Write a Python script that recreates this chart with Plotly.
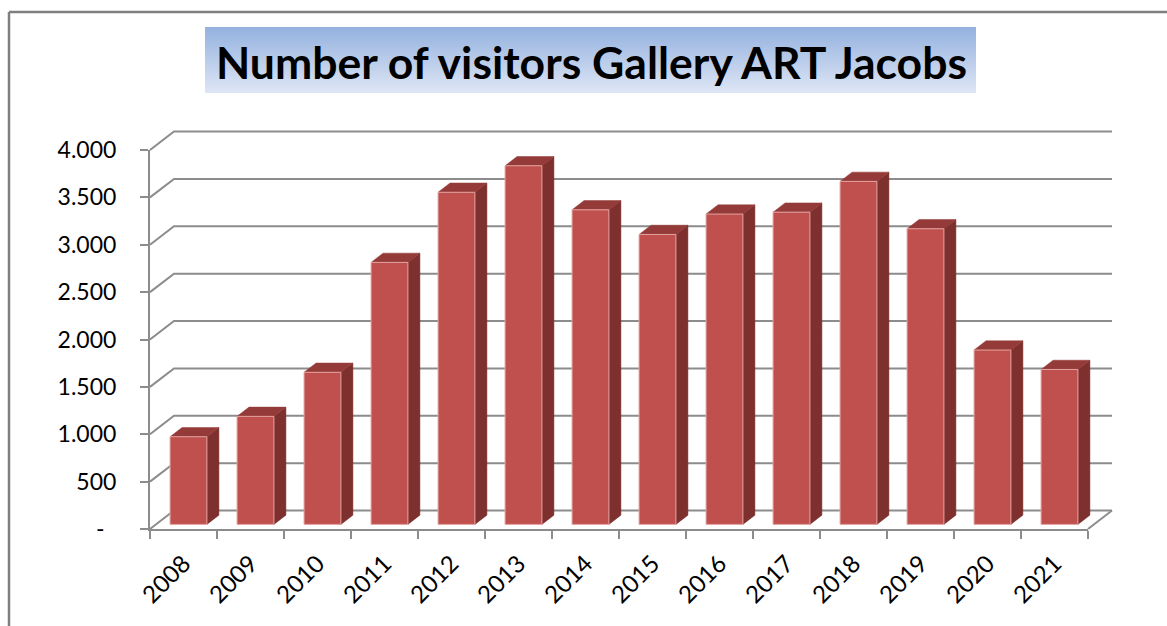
import plotly.graph_objects as go

# ---------------- data ----------------
years = ["2008", "2009", "2010", "2011", "2012", "2013", "2014",
         "2015", "2016", "2017", "2018", "2019", "2020", "2021"]
visitors = [925, 1140, 1605, 2765, 3505, 3785, 3320,
            3060, 3275, 3295, 3620, 3120, 1840, 1635]
y_tick_values = [0, 500, 1000, 1500, 2000, 2500, 3000, 3500, 4000]
y_tick_labels = ["-\u00a0\u00a0", "500", "1.000", "1.500", "2.000",
                 "2.500", "3.000", "3.500", "4.000"]
title_text = "Number of visitors Gallery ART Jacobs"

# ---------------- layout geometry (pixels) ----------------
W, H = 1167, 626
X0, X1 = 150, 1088          # pixel of first / last category boundary
Y0, Y1 = 529, 150           # pixel of value 0 / value VMAX
VMAX = y_tick_values[-1]
n = len(years)
ppc = (X1 - X0) / n         # px per category
ppv = (Y0 - Y1) / VMAX      # px per value unit
DEPTH_PX = (24, 18.5)       # 3-D depth offset of the back wall
ddx = DEPTH_PX[0] / ppc
ddy = DEPTH_PX[1] / ppv

# drawing subplot (invisible axes with identical scale)
BX0, BX1 = 140, 1135
BY0, BY1 = 110, 548
bx_range = [(BX0 - X0) / ppc, (BX1 - X0) / ppc]
by_range = [(Y0 - BY1) / ppv, (Y0 - BY0) / ppv]

GRID = "#8c8c8c"
FRONT = "#C0504D"
SIDE = "#7D302E"
TOP = "#943B39"
EDGE = "#E3A3A1"
FONT = "Lato"

fig = go.Figure()

# ---- axis holder (keeps the visible value/category axes alive) ----
fig.add_trace(go.Scatter(x=[0.5], y=[0], mode="markers", marker=dict(opacity=0),
                         xaxis="x", yaxis="y", hoverinfo="skip", showlegend=False))

# ---- gridlines / back wall / floor ----
gx, gy = [], []
for t in y_tick_values:
    gx += [0, ddx, n + ddx, None]
    gy += [t, t + ddy, t + ddy, None]
gx += [n, n + ddx, None]
gy += [0, ddy, None]
fig.add_trace(go.Scatter(x=gx, y=gy, mode="lines", xaxis="x2", yaxis="y2",
                         line=dict(color=GRID, width=2), hoverinfo="skip",
                         showlegend=False))

# ---- 3-D bars ----
BL, BR = 0.21, 0.76
Z0, Z1 = 0.25, 0.75
fx, fy, sx, sy, tx, ty = [], [], [], [], [], []
for i, v in enumerate(visitors):
    l, r = i + BL, i + BR
    a0x, a0y = Z0 * ddx, Z0 * ddy
    a1x, a1y = Z1 * ddx, Z1 * ddy
    fx += [l + a0x, r + a0x, r + a0x, l + a0x, l + a0x, None]
    fy += [a0y, a0y, v + a0y, v + a0y, a0y, None]
    sx += [r + a0x, r + a1x, r + a1x, r + a0x, r + a0x, None]
    sy += [a0y, a1y, v + a1y, v + a0y, a0y, None]
    tx += [l + a0x, r + a0x, r + a1x, l + a1x, l + a0x, None]
    ty += [v + a0y, v + a0y, v + a1y, v + a1y, v + a0y, None]

fig.add_trace(go.Scatter(x=sx, y=sy, mode="lines", fill="toself", fillcolor=SIDE,
                         line=dict(color=SIDE, width=0.5), xaxis="x2", yaxis="y2",
                         hoverinfo="skip", showlegend=False))
fig.add_trace(go.Scatter(x=tx, y=ty, mode="lines", fill="toself", fillcolor=TOP,
                         line=dict(color=TOP, width=0.5), xaxis="x2", yaxis="y2",
                         hoverinfo="skip", showlegend=False))
fig.add_trace(go.Scatter(x=fx, y=fy, mode="lines", fill="toself", fillcolor=FRONT,
                         line=dict(color=EDGE, width=1), xaxis="x2", yaxis="y2",
                         hoverinfo="skip", showlegend=False))

# ---- title box with vertical gradient ----
TB = dict(x0=205, x1=976, y0=27, y1=93)
fig.add_trace(go.Scatter(
    x=[TB["x0"], TB["x1"], TB["x1"], TB["x0"], TB["x0"]],
    y=[TB["y0"], TB["y0"], TB["y1"], TB["y1"], TB["y0"]],
    mode="lines", fill="toself", line=dict(width=0),
    fillgradient=dict(type="vertical",
                      colorscale=[[0, "#DEE6F5"], [1, "#94B1DF"]]),
    xaxis="x3", yaxis="y3", hoverinfo="skip", showlegend=False))

fig.add_annotation(text="<b>" + title_text + "</b>", xref="paper", yref="paper",
                   x=591 / W, y=1 - 62 / H, xanchor="center", yanchor="middle",
                   showarrow=False, font=dict(family=FONT, size=44.5, color="black"))

ytickfont = dict(family=FONT, size=23, color="black")
xtickfont = dict(family=FONT, size=24, color="black")

fig.update_layout(
    width=W, height=H,
    margin=dict(l=0, r=0, t=0, b=0, autoexpand=False),
    paper_bgcolor="white", plot_bgcolor="rgba(0,0,0,0)",
    showlegend=False,
    xaxis=dict(domain=[X0 / W, X1 / W], range=[0, n], anchor="y",
               automargin=False,
               showline=True, linecolor=GRID, linewidth=2,
               tickmode="array", tickvals=[i + 0.5 for i in range(n)],
               ticktext=years, ticks="", tickangle=-45, tickfont=xtickfont,
               ticklabelstandoff=9,
               showgrid=False, zeroline=False, fixedrange=True,
               minor=dict(tickmode="array", tickvals=list(range(n + 1)),
                          ticks="outside", ticklen=8, tickwidth=2,
                          tickcolor=GRID, showgrid=False)),
    yaxis=dict(domain=[1 - Y0 / H, 1 - Y1 / H], range=[0, VMAX], anchor="x",
               automargin=False,
               showline=True, linecolor=GRID, linewidth=2,
               tickmode="array", tickvals=y_tick_values, ticktext=y_tick_labels,
               ticks="outside", ticklen=8, tickwidth=2, tickcolor=GRID,
               tickfont=ytickfont, ticklabelstandoff=19,
               showgrid=False, zeroline=False, fixedrange=True),
    xaxis2=dict(domain=[BX0 / W, BX1 / W], range=bx_range, anchor="y2",
                visible=False, fixedrange=True, automargin=False),
    yaxis2=dict(domain=[1 - BY1 / H, 1 - BY0 / H], range=by_range, anchor="x2",
                visible=False, fixedrange=True, automargin=False),
    xaxis3=dict(domain=[0, 1], range=[0, W], anchor="y3", visible=False,
                fixedrange=True, automargin=False),
    yaxis3=dict(domain=[0, 1], range=[H, 0], anchor="x3", visible=False,
                fixedrange=True, automargin=False),
    shapes=[
        dict(type="line", xref="paper", yref="paper", x0=9 / W, x1=9 / W,
             y0=1 - 12 / H, y1=0, line=dict(color="#7f7f7f", width=2.5)),
        dict(type="line", xref="paper", yref="paper", x0=9 / W, x1=1,
             y0=1 - 12 / H, y1=1 - 12 / H, line=dict(color="#7f7f7f", width=2.5)),
    ],
)

fig.write_html("out.html")
